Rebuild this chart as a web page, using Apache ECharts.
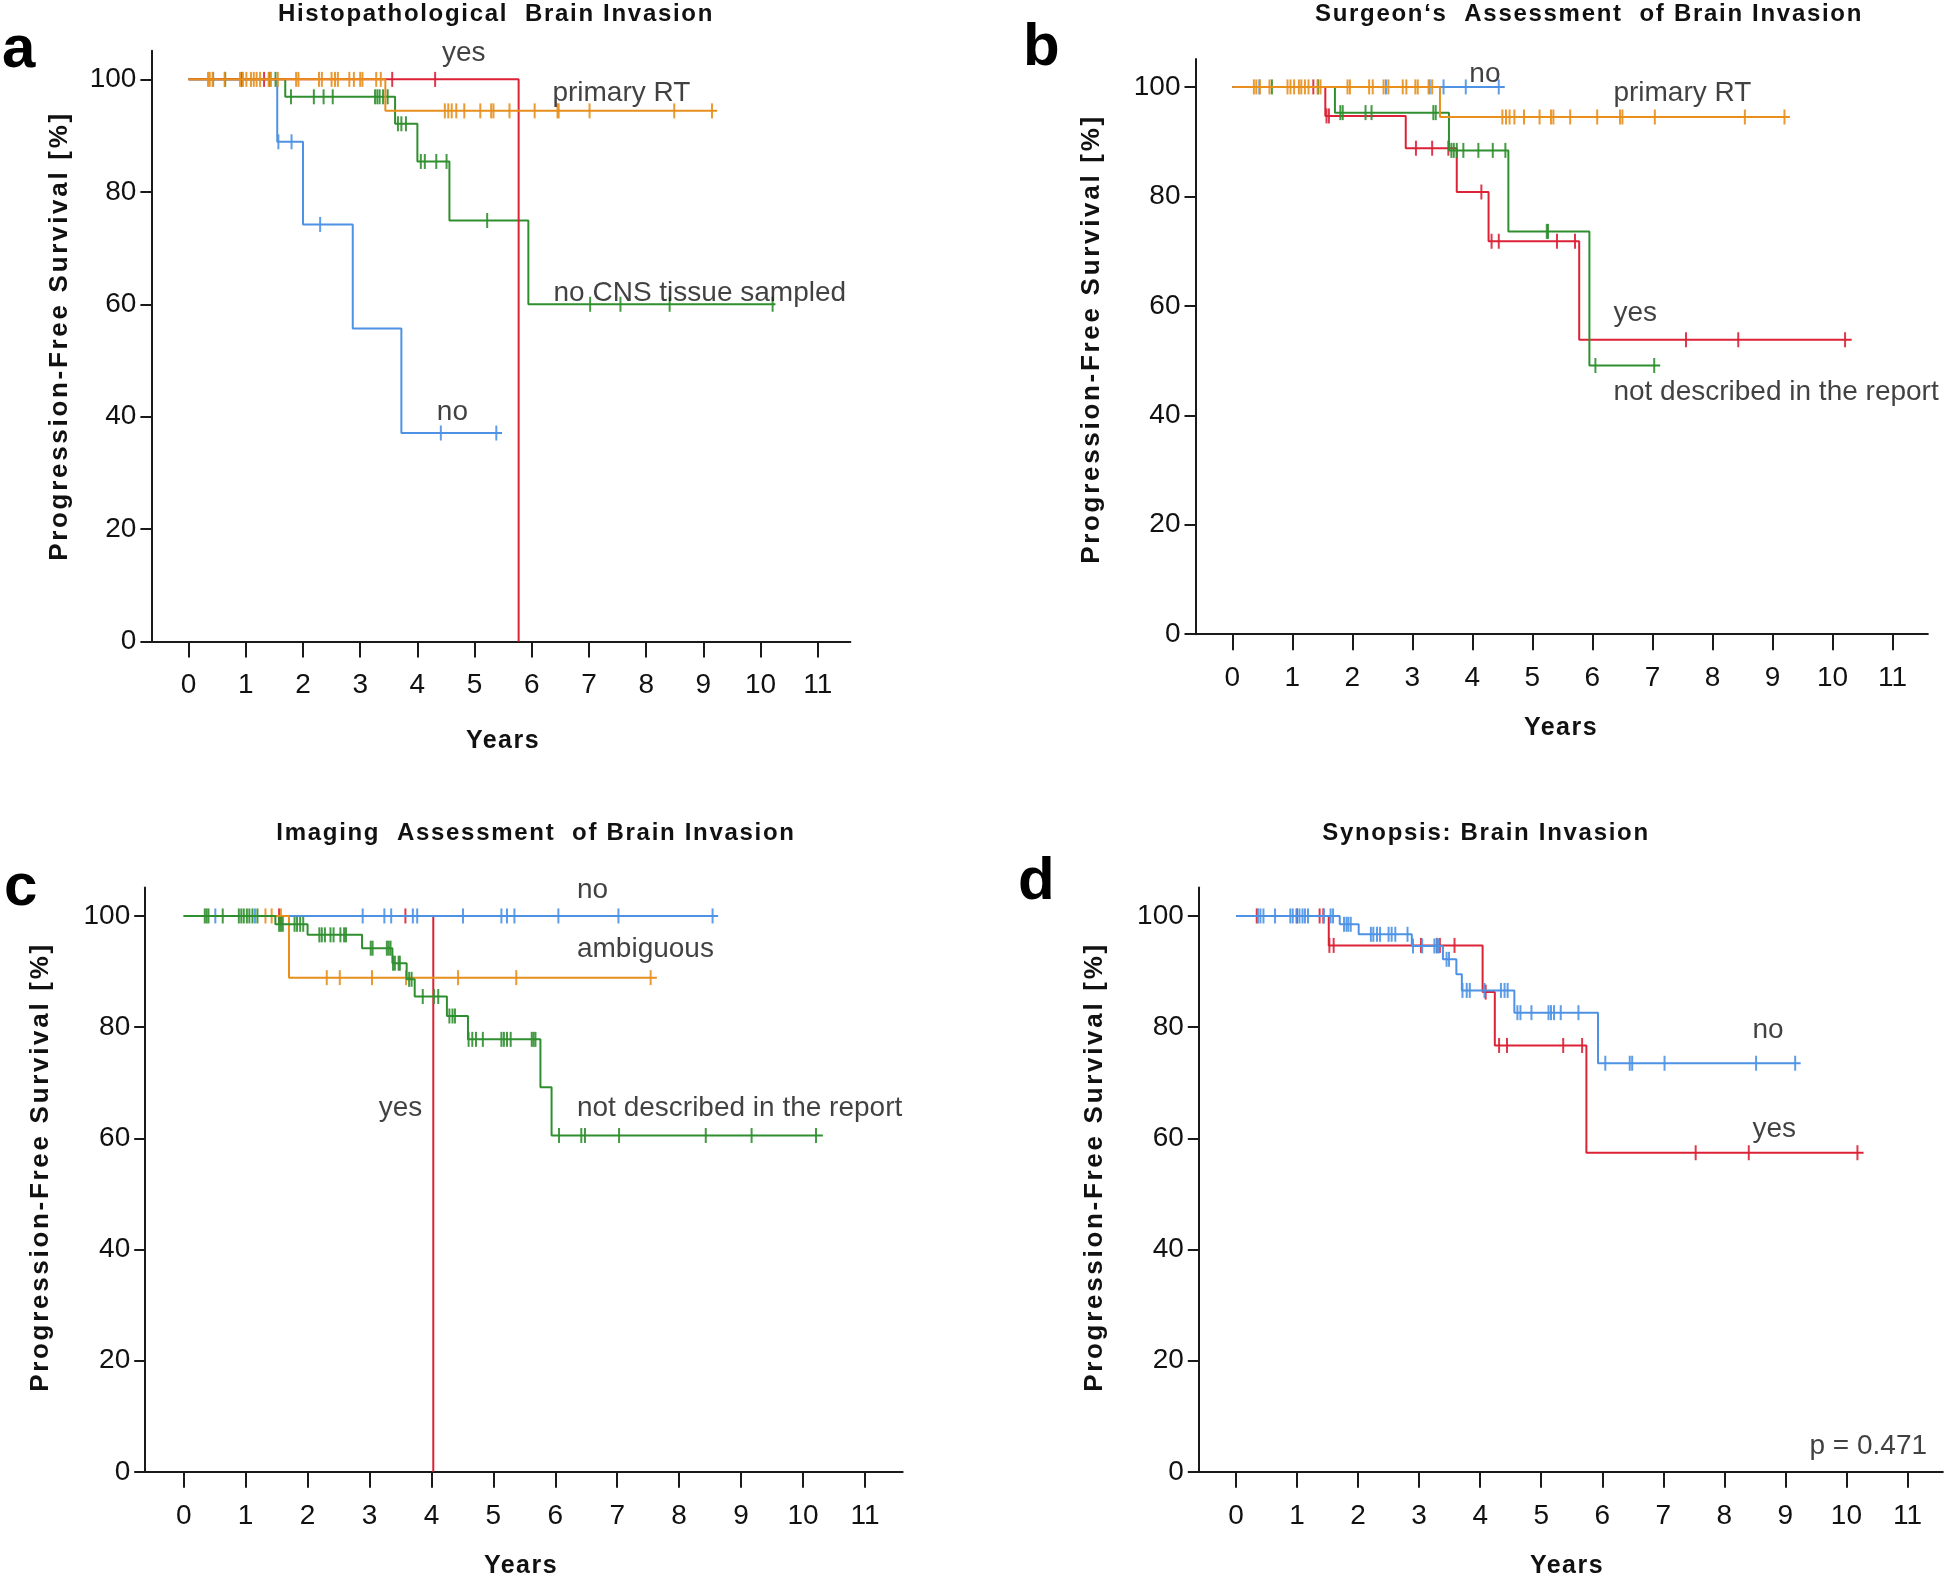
<!DOCTYPE html>
<html><head><meta charset="utf-8">
<script src="https://cdn.jsdelivr.net/npm/echarts@6/dist/echarts.min.js"></script>
<style>html,body{margin:0;padding:0;background:#fff}#c{width:1946px;height:1580px}</style>
</head><body><div id="c"></div>
<script>
// letter spacing support: font family marker "lspNN" = NN/10 px
(function(){
  var P = CanvasRenderingContext2D.prototype;
  var oF = P.fillText, oS = P.strokeText, oM = P.measureText;
  function ls(ctx){ var m = /lsp(\d+)/.exec(ctx.font || ''); return m ? (m[1]/10) + 'px' : '0px'; }
  function apply(ctx){ if ('letterSpacing' in ctx) ctx.letterSpacing = ls(ctx); }
  P.fillText = function(){ apply(this); return oF.apply(this, arguments); };
  P.strokeText = function(){ apply(this); return oS.apply(this, arguments); };
  P.measureText = function(){ apply(this); return oM.apply(this, arguments); };
})();

// ---------- DATA ----------
const titles = ['Histopathological  Brain Invasion', 'Surgeon\u2018s  Assessment  of Brain Invasion', 'Imaging  Assessment  of Brain Invasion', 'Synopsis: Brain Invasion'];
const panelLetters = ['a', 'b', 'c', 'd'];
const xTickValues = [0,1,2,3,4,5,6,7,8,9,10,11];
const yTickValues = [0,20,40,60,80,100];
const xAxisName = 'Years';
const yAxisName = 'Progression-Free Survival [%]';

// Panel a
const aYesEvents = [[5.77, 0]];
const aYesCens = [1.32, 3.56, 4.31];
const aYesEnd = 5.77;
const aNoEvents = [[1.55, 88.9], [2.0, 74.2], [2.87, 55.7], [3.72, 37.1]];
const aNoCens = [0.43, 1.57, 1.80, 2.30, 4.41, 5.38];
const aNoEnd = 5.48;
const aCnsEvents = [[1.69, 96.9], [3.61, 92.1], [4.0, 85.4], [4.56, 74.9], [5.94, 60.0]];
const aCnsCens = [0.64, 0.93, 1.42, 1.52, 1.79, 2.19, 2.36, 2.52, 3.26, 3.30, 3.34, 3.40, 3.48, 3.66, 3.72, 3.80, 4.06, 4.13, 4.33, 4.51, 5.22, 7.02, 7.55, 8.41, 10.21];
const aCnsEnd = 10.26;
const aRtEvents = [[3.44, 94.4]];
const aRtCens = [0.34, 0.37, 0.42, 0.63, 0.90, 0.95, 1.01, 1.09, 1.14, 1.19, 1.25, 1.40, 1.44, 1.56, 1.88, 1.92, 2.28, 2.33, 2.50, 2.56, 2.61, 2.81, 2.89, 3.00, 3.04, 3.28, 3.36, 4.48, 4.54, 4.60, 4.68, 4.82, 5.10, 5.29, 5.33, 5.61, 6.05, 6.45, 6.47, 7.01, 8.49, 9.15];
const aRtEnd = 9.24;
const aLabels = [['yes', 4.43, 104.6], ['primary RT', 6.36, 97.6], ['no CNS tissue sampled', 6.38, 62.0], ['no', 4.34, 40.8]];

// Panel b
const bNoEvents = [];
const bNoCens = [0.45, 2.56, 3.29, 3.52, 3.89, 4.44];
const bNoEnd = 4.54;
const bYesEvents = [[1.55, 94.7], [2.89, 88.8], [3.74, 80.8], [4.27, 71.8], [5.78, 53.8]];
const bYesCens = [1.35, 1.57, 1.61, 3.06, 3.33, 3.60, 4.15, 4.32, 4.44, 5.41, 5.71, 7.56, 8.43, 10.21];
const bYesEnd = 10.32;
const bNdEvents = [[1.71, 95.3], [3.61, 88.4], [4.60, 73.6], [5.95, 49.1]];
const bNdCens = [0.66, 1.43, 1.80, 1.84, 2.22, 2.32, 3.35, 3.39, 3.65, 3.69, 3.74, 3.85, 4.10, 4.34, 4.55, 5.24, 5.26, 6.05, 7.03];
const bNdEnd = 7.13;
const bRtEvents = [[3.46, 94.5]];
const bRtCens = [0.36, 0.40, 0.46, 0.62, 0.92, 0.97, 1.03, 1.11, 1.15, 1.21, 1.27, 1.42, 1.47, 1.92, 1.96, 2.28, 2.34, 2.52, 2.60, 2.84, 2.90, 3.05, 3.09, 3.27, 3.33, 4.50, 4.56, 4.62, 4.70, 4.86, 5.12, 5.31, 5.35, 5.63, 6.08, 6.46, 6.50, 7.04, 8.54, 9.20];
const bRtEnd = 9.29;
const bLabels = [['no', 3.95, 102.3], ['primary RT', 6.35, 98.9], ['yes', 6.35, 58.7], ['not described in the report', 6.35, 44.2]];

// Panel c
const cYesEvents = [[4.03, 0]];
const cYesCens = [1.54, 3.58];
const cYesEnd = 4.03;
const cNoEvents = [];
const cNoCens = [0.51, 1.15, 2.89, 3.24, 3.35, 3.70, 3.77, 4.51, 5.13, 5.22, 5.34, 6.05, 7.02, 8.54];
const cNoEnd = 8.63;
const cAmbEvents = [[1.70, 88.9]];
const cAmbCens = [1.32, 1.42, 1.57, 2.31, 2.52, 3.04, 3.59, 4.43, 5.37, 7.54];
const cAmbEnd = 7.64;
const cNdEvents = [[1.48, 98.5], [2.0, 96.6], [2.88, 94.2], [3.37, 91.5], [3.60, 88.6], [3.73, 85.5], [4.25, 82.0], [4.59, 77.8], [5.76, 69.2], [5.94, 60.5]];
const cNdCens = [0.34, 0.37, 0.40, 0.63, 0.89, 0.93, 0.97, 1.02, 1.06, 1.11, 1.19, 1.54, 1.57, 1.60, 1.79, 1.83, 1.88, 1.93, 2.19, 2.23, 2.28, 2.37, 2.42, 2.53, 2.59, 2.62, 3.02, 3.05, 3.28, 3.31, 3.34, 3.38, 3.41, 3.47, 3.49, 3.64, 3.68, 3.86, 4.04, 4.11, 4.29, 4.34, 4.38, 4.60, 4.66, 4.72, 4.83, 5.13, 5.17, 5.22, 5.28, 5.62, 5.65, 5.68, 6.06, 6.42, 6.48, 7.03, 8.43, 9.17, 10.21];
const cNdEnd = 10.32;
const cLabels = [['no', 6.35, 104.7], ['ambiguous', 6.35, 94.0], ['yes', 3.15, 65.4], ['not described in the report', 6.35, 65.4]];

// Panel d
const dYesEvents = [[1.52, 94.7], [4.04, 86.3], [4.24, 76.7], [5.74, 57.4]];
const dYesCens = [0.34, 1.00, 1.37, 1.43, 1.53, 1.60, 3.03, 3.29, 3.34, 3.58, 4.09, 4.31, 4.44, 5.36, 5.67, 7.53, 8.40, 10.18];
const dYesEnd = 10.28;
const dNoEvents = [[1.70, 98.5], [2.01, 96.7], [2.88, 94.6], [3.39, 92.2], [3.61, 89.5], [3.70, 86.6], [4.56, 82.6], [5.93, 73.5]];
const dNoCens = [0.36, 0.40, 0.45, 0.64, 0.89, 0.93, 0.99, 1.04, 1.09, 1.13, 1.18, 1.44, 1.55, 1.59, 1.77, 1.81, 1.84, 1.88, 2.21, 2.25, 2.31, 2.36, 2.50, 2.55, 2.61, 2.81, 2.90, 3.05, 3.25, 3.29, 3.32, 3.45, 3.49, 3.71, 3.78, 3.83, 4.07, 4.34, 4.40, 4.45, 4.61, 4.66, 4.84, 5.12, 5.16, 5.21, 5.32, 5.61, 6.05, 6.45, 6.49, 7.02, 8.52, 9.16];
const dNoEnd = 9.25;
const dLabels = [['no', 8.46, 79.5], ['yes', 8.46, 61.6]];
const dPValue = ['p = 0.471', 11.32, 4.6];

// ---------- STYLE / LAYOUT ----------
const BLUE = '#4d92e4', RED = '#dc2236', GREEN = '#2f8f2f', ORANGE = '#e88f1c';
const FF = '"Liberation Sans", Arial, sans-serif';
const layout = [
  {left: 151.4, top: 50.7, width: 699.0, height: 590.9, xMin: -0.65, xMax: 11.57},
  {left: 1195.5, top: 59.0, width: 732.4, height: 575.2, xMin: -0.613, xMax: 11.59},
  {left: 145.2, top: 887.6, width: 757.5, height: 584.2, xMin: -0.622, xMax: 11.61},
  {left: 1198.8, top: 887.6, width: 744.1, height: 584.2, xMin: -0.609, xMax: 11.58}
];
const Y_MAX = 105.1;

const panels = [
  {curves: [
    {ev: aNoEvents, cens: aNoCens, end: aNoEnd, color: BLUE},
    {ev: aCnsEvents, cens: aCnsCens, end: aCnsEnd, color: GREEN},
    {ev: aYesEvents, cens: aYesCens, end: aYesEnd, color: RED},
    {ev: aRtEvents, cens: aRtCens, end: aRtEnd, color: ORANGE}], labels: aLabels},
  {curves: [
    {ev: bYesEvents, cens: bYesCens, end: bYesEnd, color: RED},
    {ev: bNdEvents, cens: bNdCens, end: bNdEnd, color: GREEN},
    {ev: bNoEvents, cens: bNoCens, end: bNoEnd, color: BLUE},
    {ev: bRtEvents, cens: bRtCens, end: bRtEnd, color: ORANGE}], labels: bLabels},
  {curves: [
    {ev: cYesEvents, cens: cYesCens, end: cYesEnd, color: RED},
    {ev: cNoEvents, cens: cNoCens, end: cNoEnd, color: BLUE},
    {ev: cAmbEvents, cens: cAmbCens, end: cAmbEnd, color: ORANGE},
    {ev: cNdEvents, cens: cNdCens, end: cNdEnd, color: GREEN}], labels: cLabels},
  {curves: [
    {ev: dYesEvents, cens: dYesCens, end: dYesEnd, color: RED},
    {ev: dNoEvents, cens: dNoCens, end: dNoEnd, color: BLUE}], labels: dLabels}
];

function levelAt(events, t) { let s = 100; for (const e of events) { if (e[0] <= t + 1e-9) s = e[1]; } return s; }
function curvePoints(events, end) {
  const pts = [[0, 100]];
  events.forEach(e => pts.push([e[0], e[1]]));
  pts.push([end, events.length ? events[events.length - 1][1] : 100]);
  return pts;
}

const grid = [], xAxis = [], yAxis = [], series = [];
layout.forEach((g, i) => {
  grid.push({left: g.left, top: g.top, width: g.width, height: g.height, containLabel: false});
  xAxis.push({
    type: 'value', gridIndex: i, min: g.xMin, max: g.xMax,
    axisLine: {show: true, onZero: false, lineStyle: {color: '#1a1a1a', width: 2}},
    axisTick: {show: true, length: 16, customValues: xTickValues, lineStyle: {color: '#1a1a1a', width: 2}},
    axisLabel: {show: true, customValues: xTickValues, margin: 30, fontSize: 28, fontFamily: FF, color: '#111'},
    splitLine: {show: false}
  });
  yAxis.push({
    type: 'value', gridIndex: i, min: 0, max: Y_MAX,
    axisLine: {show: true, onZero: false, lineStyle: {color: '#1a1a1a', width: 2}},
    axisTick: {show: true, length: 11, customValues: yTickValues, lineStyle: {color: '#1a1a1a', width: 2}},
    axisLabel: {show: true, customValues: yTickValues, margin: 15, fontSize: 28, fontFamily: FF, color: '#111'},
    splitLine: {show: false}
  });
  const p = panels[i];
  p.curves.forEach((c, k) => {
    series.push({
      type: 'line', xAxisIndex: i, yAxisIndex: i, step: 'end', showSymbol: false, silent: true,
      data: curvePoints(c.ev, c.end), lineStyle: {color: c.color, width: 2}, z: 2 + k, animation: false
    });
    series.push({
      type: 'scatter', xAxisIndex: i, yAxisIndex: i, silent: true, symbol: 'rect', symbolSize: [2, 15],
      data: c.cens.map(t => [t, levelAt(c.ev, t)]), itemStyle: {color: c.color, opacity: 0.9}, z: 2 + k, animation: false
    });
  });
  series.push({
    type: 'scatter', xAxisIndex: i, yAxisIndex: i, silent: true, symbolSize: 0, z: 10, animation: false,
    data: p.labels.map(l => ({name: l[0], value: [l[1], l[2]]})),
    label: {show: true, position: 'right', distance: 0, formatter: '{b}', fontSize: 28, fontFamily: FF, color: '#111'}
  });
});
series.push({
  type: 'scatter', xAxisIndex: 3, yAxisIndex: 3, silent: true, symbolSize: 0, z: 10, animation: false,
  data: [{name: dPValue[0], value: [dPValue[1], dPValue[2]]}],
  label: {show: true, position: 'left', distance: 0, formatter: '{b}', fontSize: 28, fontFamily: FF, color: '#111'}
});

const titlePos = [[496, 14], [1589, 14], [536, 833], [1486, 833]];
const letterPos = [[2, 50], [1023, 48], [4, 888], [1018, 882]];
const yNamePos = [[59.6, 336], [1092, 339], [41, 1167], [1094.5, 1167]];
const xNamePos = [[503, 741], [1561, 728], [521, 1566], [1567, 1566]];
const graphic = [];
for (let i = 0; i < 4; i++) {
  graphic.push({type: 'text', x: titlePos[i][0], y: titlePos[i][1], silent: true,
    style: {text: titles[i], font: 'bold 24px "Liberation Sans", lsp17, Arial, sans-serif', fill: '#111',
      textAlign: 'center', textVerticalAlign: 'middle', align: 'center', verticalAlign: 'middle'}});
  graphic.push({type: 'text', x: letterPos[i][0], y: letterPos[i][1], silent: true,
    style: {text: panelLetters[i], font: 'bold 60px "Liberation Sans", Arial, sans-serif', fill: '#000',
      textAlign: 'left', textVerticalAlign: 'middle', align: 'left', verticalAlign: 'middle'}});
  graphic.push({type: 'text', x: yNamePos[i][0], y: yNamePos[i][1], rotation: Math.PI / 2, silent: true,
    style: {text: yAxisName, font: 'bold 26px "Liberation Sans", lsp27, Arial, sans-serif', fill: '#111',
      textAlign: 'center', textVerticalAlign: 'middle', align: 'center', verticalAlign: 'middle'}});
  graphic.push({type: 'text', x: xNamePos[i][0], y: xNamePos[i][1], silent: true,
    style: {text: xAxisName, font: 'bold 25px "Liberation Sans", lsp15, Arial, sans-serif', fill: '#111',
      textAlign: 'center', textVerticalAlign: 'middle', align: 'center', verticalAlign: 'middle'}});
}

const chart = echarts.init(document.getElementById('c'), null, {renderer: 'canvas', width: 1946, height: 1580});
chart.setOption({backgroundColor: '#fff', animation: false, grid, xAxis, yAxis, series, graphic});
</script></body></html>
